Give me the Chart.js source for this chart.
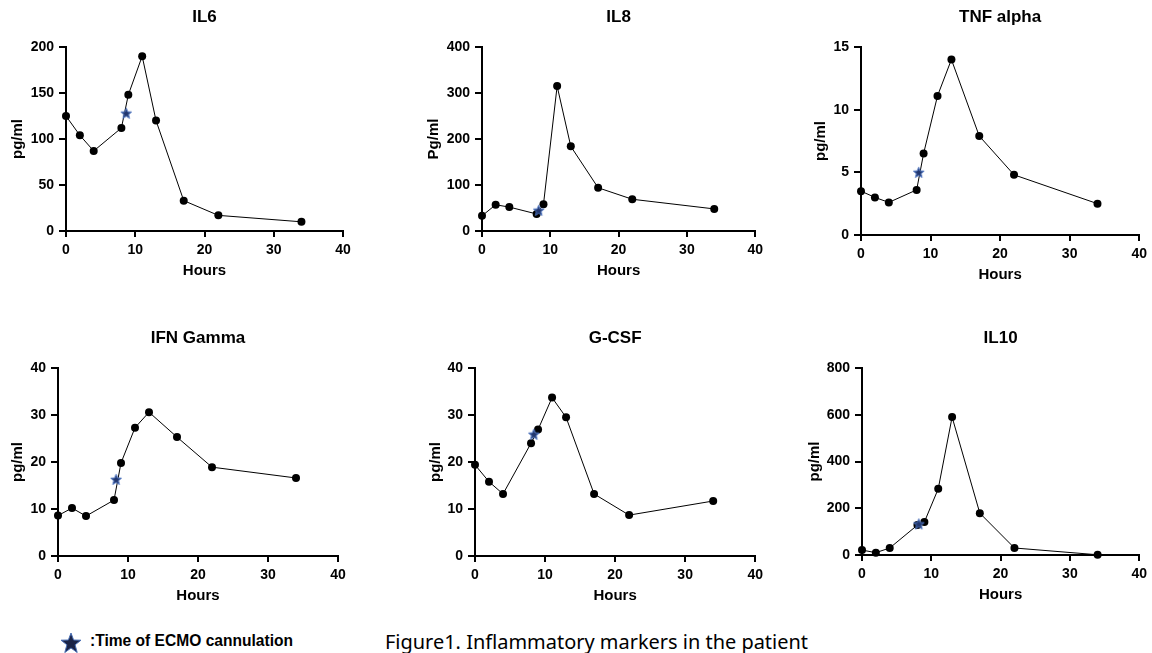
<!DOCTYPE html>
<html>
<head>
<meta charset="utf-8">
<script src="https://cdn.jsdelivr.net/npm/chart.js@4.4.0/dist/chart.umd.min.js"></script>
<style>
  body { margin: 0; background: #fff; width: 1152px; height: 653px; position: relative; overflow: hidden; }
  .panel { position: absolute; width: 384px; height: 290px; }
  .note { position: absolute; white-space: nowrap; transform-origin: 0 50%; color: #000; }
  #legendStar { position: absolute; left: 60px; top: 632px; }
  #legendText { left: 90px; top: 631px; font: bold 16px "Liberation Sans", Arial, sans-serif; line-height: 20px; }
  #caption { left: 385px; top: 630px; font: 19px "Noto Sans", "Open Sans", sans-serif; line-height: 24px; }
</style>
</head>
<body>
<canvas id="c0" class="panel" width="384" height="290" style="left:0;top:0"></canvas>
<canvas id="c1" class="panel" width="384" height="290" style="left:384px;top:0"></canvas>
<canvas id="c2" class="panel" width="384" height="290" style="left:768px;top:0"></canvas>
<canvas id="c3" class="panel" width="384" height="290" style="left:0;top:320px"></canvas>
<canvas id="c4" class="panel" width="384" height="290" style="left:384px;top:320px"></canvas>
<canvas id="c5" class="panel" width="384" height="290" style="left:768px;top:320px"></canvas>

<svg id="legendStar" width="22" height="22" viewBox="0 0 22 22">
  <polygon points="11,1 13.6,8 21,8.2 15.1,12.8 17.2,20.5 11,16 4.8,20.5 6.9,12.8 1,8.2 8.4,8" fill="#1b2447" stroke="#4a6fb5" stroke-width="1"/>
</svg>
<div id="legendText" class="note">:Time of ECMO cannulation</div>
<div id="caption" class="note">Figure1. Inflammatory markers in the patient</div>

<script>
// sampling times (hours)
const hours = [0, 2, 4, 8, 9, 11, 13, 17, 22, 34];

// measured values, pg/ml
const il6 = [125, 104, 87, 112, 148, 190, 120, 33, 17, 10];
const il8 = [33, 57, 52, 37, 58, 315, 184, 94, 69, 48];
const tnfAlpha = [3.5, 3.0, 2.6, 3.6, 6.5, 11.1, 14.0, 7.9, 4.8, 2.5];
const ifnGamma = [8.6, 10.2, 8.5, 11.9, 19.8, 27.3, 30.6, 25.3, 18.9, 16.6];
const gcsf = [19.4, 15.8, 13.2, 24.0, 26.9, 33.7, 29.5, 13.2, 8.7, 11.7];
const il10 = [21, 10, 30, 128, 141, 283, 590, 179, 30, 1];

// ECMO cannulation star, one per panel
const ecmoHours = [8.7, 8.3, 8.3, 8.3, 8.4, 8.2];
const ecmoValues = [128, 45, 5.0, 16.3, 25.9, 133];

const panelTitles = ['IL6', 'IL8', 'TNF alpha', 'IFN Gamma', 'G-CSF', 'IL10'];
const yAxisTitles = ['pg/ml', 'Pg/ml', 'pg/ml', 'pg/ml', 'pg/ml', 'pg/ml'];
const yMax = [200, 400, 15, 40, 40, 800];
const yStep = [50, 100, 5, 10, 10, 200];
const xTicks = [0, 10, 20, 30, 40];
const series = [il6, il8, tnfAlpha, ifnGamma, gcsf, il10];

// where each plot area sits inside its 384x290 canvas
const boxes = [
    { axisX: 66, right: 343, top: 47, bottom: 231, yTitleX: 18, titleY: 17 },
    { axisX: 98, right: 375, top: 47, bottom: 231, yTitleX: 50, titleY: 17 },
    { axisX: 93, right: 374, top: 47, bottom: 235, yTitleX: 53, titleY: 17 },
    { axisX: 58, right: 338, top: 48, bottom: 236, yTitleX: 18, titleY: 18 },
    { axisX: 91, right: 372, top: 48, bottom: 236, yTitleX: 52, titleY: 18 },
    { axisX: 94, right: 374, top: 48, bottom: 235, yTitleX: 47, titleY: 18 }
];

const FONT = '"Liberation Sans", Arial, sans-serif';
const CANVAS_H = 290;

function makeStar(size) {
    const c = document.createElement('canvas');
    c.width = size;
    c.height = size;
    const g = c.getContext('2d');
    const cx = size / 2, cy = size / 2 + 0.5;
    const outer = size / 2 - 0.8, inner = outer * 0.42;
    g.beginPath();
    for (let i = 0; i < 10; i++) {
        const r = i % 2 === 0 ? outer : inner;
        const a = -Math.PI / 2 + i * Math.PI / 5;
        const px = cx + r * Math.cos(a), py = cy + r * Math.sin(a);
        if (i === 0) g.moveTo(px, py); else g.lineTo(px, py);
    }
    g.closePath();
    g.fillStyle = '#22376e';
    g.fill();
    g.strokeStyle = '#4d74c0';
    g.lineWidth = 1;
    g.stroke();
    return c;
}
const starImg = makeStar(13);

const panelTitle = {
    id: 'panelTitle',
    afterDraw(chart, args, opts) {
        const { ctx, chartArea } = chart;
        ctx.save();
        ctx.font = 'bold 17px ' + FONT;
        ctx.fillStyle = '#000';
        ctx.textAlign = 'center';
        ctx.textBaseline = 'middle';
        ctx.fillText(opts.text, (chartArea.left + chartArea.right) / 2, opts.y);
        ctx.restore();
    }
};

function axisGrid(len) {
    return {
        display: true,
        drawOnChartArea: false,
        drawTicks: true,
        tickLength: len,
        color: '#000',
        lineWidth: 2
    };
}

function buildChart(i) {
    const b = boxes[i];
    const padLeft = b.yTitleX - 9;
    const hoursY = b.bottom + 40;
    const padBottom = CANVAS_H - hoursY - 9;
    const points = hours.map((h, k) => ({ x: h, y: series[i][k] }));

    return new Chart(document.getElementById('c' + i), {
        type: 'scatter',
        data: {
            datasets: [
                {
                    data: [{ x: ecmoHours[i], y: ecmoValues[i] }],
                    pointStyle: starImg,
                    showLine: false,
                    clip: false
                },
                {
                    data: points,
                    showLine: true,
                    borderColor: '#000',
                    borderWidth: 1,
                    pointRadius: 4,
                    pointBackgroundColor: '#000',
                    pointBorderWidth: 0,
                    tension: 0,
                    clip: false
                }
            ]
        },
        options: {
            responsive: false,
            animation: false,
            devicePixelRatio: 1,
            layout: {
                padding: { left: padLeft, top: b.top, right: 384 - b.right, bottom: padBottom }
            },
            plugins: {
                legend: { display: false },
                tooltip: { enabled: false },
                panelTitle: { text: panelTitles[i], y: b.titleY }
            },
            scales: {
                x: {
                    type: 'linear',
                    min: 0,
                    max: 40,
                    afterBuildTicks: s => { s.ticks = xTicks.map(v => ({ value: v })); },
                    afterFit: s => { s.height = CANVAS_H - padBottom - b.bottom; },
                    grid: axisGrid(6),
                    border: { display: true, color: '#000', width: 2 },
                    ticks: { color: '#000', font: { family: FONT, size: 14, weight: 'bold' }, padding: 5, maxRotation: 0 },
                    title: { display: true, text: 'Hours', color: '#000', padding: 0, font: { family: FONT, size: 15, weight: 'bold' } }
                },
                y: {
                    min: 0,
                    max: yMax[i],
                    afterFit: s => { s.width = b.axisX - padLeft; },
                    grid: axisGrid(7),
                    border: { display: true, color: '#000', width: 2 },
                    ticks: { stepSize: yStep[i], color: '#000', font: { family: FONT, size: 14, weight: 'bold' }, padding: 5 },
                    title: { display: true, text: yAxisTitles[i], color: '#000', padding: 0, font: { family: FONT, size: 15, weight: 'bold' } }
                }
            }
        },
        plugins: [panelTitle]
    });
}

for (let i = 0; i < 6; i++) buildChart(i);

// squeeze the two text lines to the width they take in the figure
function fitWidth(id, target) {
    const el = document.getElementById(id);
    const w = el.getBoundingClientRect().width;
    el.style.transform = 'scaleX(' + (target / w) + ')';
}
fitWidth('legendText', 203);
fitWidth('caption', 423);
</script>
</body>
</html>
